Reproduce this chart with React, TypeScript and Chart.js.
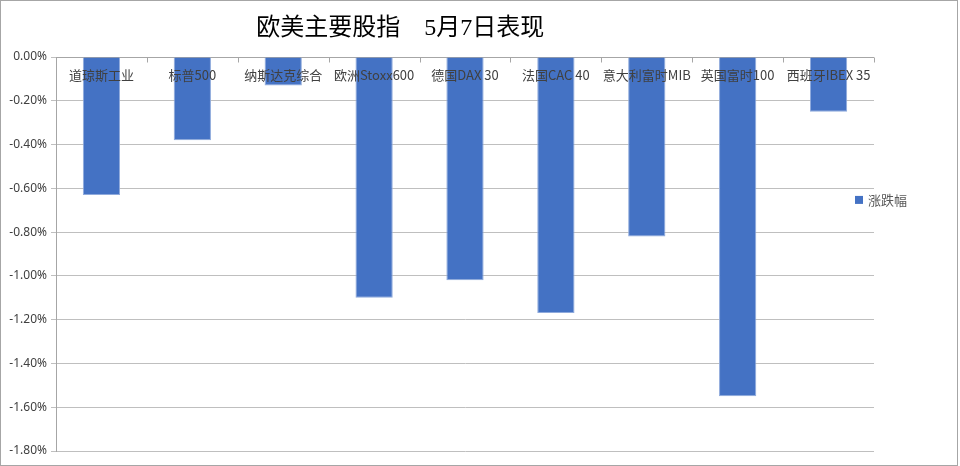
import React, { useEffect, useRef } from "react";
import { Chart, registerables } from "chart.js";

Chart.register(...registerables);

const categories = [
  "道琼斯工业",
  "标普500",
  "纳斯达克综合",
  "欧洲Stoxx600",
  "德国DAX 30",
  "法国CAC 40",
  "意大利富时MIB",
  "英国富时100",
  "西班牙IBEX 35",
];
const changes = [-0.63, -0.38, -0.13, -1.1, -1.02, -1.17, -0.82, -1.55, -0.25];
const seriesName = "涨跌幅";
const titleText = "欧美主要股指　5月7日表现";
const yMin = -1.8;
const yMax = 0;
const yStep = 0.2;

const BAR_COLOR = "#4472C4";
const CJK = '"Noto Sans CJK SC"';

const customPlugin = {
  id: "customDecor",
  beforeDatasetsDraw(chart: any) {
    const ctx = chart.ctx;
    const { left, right } = chart.chartArea;
    const ys = chart.scales.y;
    const xs = chart.scales.x;
    const y0 = Math.round(ys.getPixelForValue(0)) + 0.5;
    const w = xs.getPixelForValue(1) - xs.getPixelForValue(0);
    ctx.save();
    ctx.strokeStyle = "#a6a6a6";
    ctx.lineWidth = 1;
    ctx.beginPath();
    ctx.moveTo(left, y0);
    ctx.lineTo(right, y0);
    for (let i = 0; i <= categories.length; i++) {
      const px = Math.round(xs.getPixelForValue(0) - w / 2 + i * w) + 0.5;
      ctx.moveTo(px, y0);
      ctx.lineTo(px, y0 + 5);
    }
    ctx.stroke();
    ctx.restore();
  },
  afterDatasetsDraw(chart: any) {
    const ctx = chart.ctx;
    const { right } = chart.chartArea;
    const ys = chart.scales.y;
    const xs = chart.scales.x;
    const y0 = ys.getPixelForValue(0);
    ctx.save();
    // category labels just below the zero line
    ctx.font = `13px ${CJK}`;
    ctx.fillStyle = "#404040";
    ctx.textAlign = "center";
    ctx.textBaseline = "middle";
    categories.forEach((c, i) => {
      ctx.fillText(c, xs.getPixelForValue(i), y0 + 18);
    });
    // title
    ctx.font = `24px "Liberation Serif", ${CJK}`;
    ctx.fillStyle = "#000000";
    ctx.textAlign = "center";
    ctx.textBaseline = "middle";
    ctx.fillText(titleText, chart.width * 0.417, 29);
    // legend
    const lx = right - 19;
    const ly = chart.height * 0.429;
    ctx.fillStyle = BAR_COLOR;
    ctx.fillRect(lx, ly - 4, 8, 8);
    ctx.font = `13px ${CJK}`;
    ctx.fillStyle = "#595959";
    ctx.textAlign = "left";
    ctx.textBaseline = "middle";
    ctx.fillText(seriesName, lx + 13, ly);
    ctx.restore();
  },
};

export default function App() {
  const canvasRef = useRef<HTMLCanvasElement | null>(null);

  useEffect(() => {
    const canvas = canvasRef.current;
    if (!canvas) return;
    const chart = new Chart(canvas, {
      type: "bar",
      data: {
        labels: categories,
        datasets: [
          {
            label: seriesName,
            data: changes,
            backgroundColor: BAR_COLOR,
            borderColor: "#8faadc",
            borderWidth: 1,
            barPercentage: 0.41,
            categoryPercentage: 1,
          },
        ],
      },
      options: {
        responsive: false,
        animation: false,
        devicePixelRatio: 1,
        layout: { padding: { top: 57, bottom: 15, left: 0, right: 86 } },
        plugins: {
          legend: { display: false },
          title: { display: false },
          tooltip: { enabled: false },
        },
        scales: {
          x: { display: false, offset: true },
          y: {
            min: yMin,
            max: yMax,
            afterFit: (scale: any) => {
              scale.width = 56;
            },
            ticks: {
              stepSize: yStep,
              padding: 4,
              color: "#404040",
              font: { family: '"Noto Sans"', size: 12 },
              callback: (v: any) => {
                const n = Number(v);
                const s = Math.abs(n) < 1e-9 ? "0.00" : n.toFixed(2);
                return s + "%";
              },
            },
            grid: {
              color: "#bfbfbf",
              lineWidth: 1,
              tickLength: 5,
              drawTicks: true,
            },
            border: { display: true, color: "#a6a6a6", width: 1 },
          },
        },
      },
      plugins: [customPlugin],
    });
    return () => chart.destroy();
  }, []);

  return (
    <div style={{ position: "absolute", left: 0, top: 0, width: 960, height: 466, background: "#fff" }}>
      <canvas ref={canvasRef} width={960} height={466} style={{ display: "block", width: 960, height: 466 }} />
      <div
        style={{
          position: "absolute",
          left: 0,
          top: 0,
          width: 958,
          height: 466,
          boxSizing: "border-box",
          border: "1px solid #a6a6a6",
          pointerEvents: "none",
        }}
      />
    </div>
  );
}
